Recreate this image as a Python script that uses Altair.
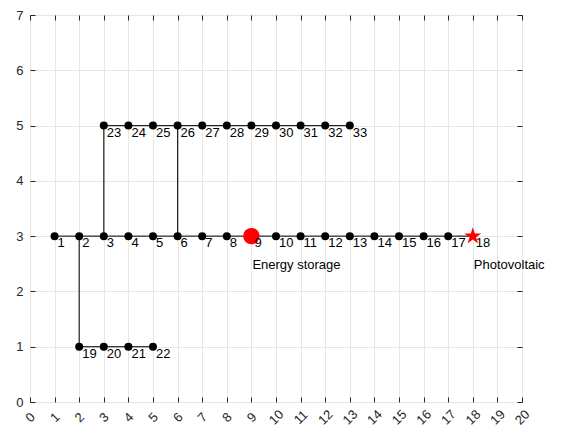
import altair as alt
import pandas as pd

# Node positions
node_ids = [1, 2, 3, 4, 5, 6, 7, 8, 9, 10, 11, 12, 13, 14, 15, 16, 17, 18,
            19, 20, 21, 22,
            23, 24, 25, 26, 27, 28, 29, 30, 31, 32, 33]
node_x = [1, 2, 3, 4, 5, 6, 7, 8, 9, 10, 11, 12, 13, 14, 15, 16, 17, 18,
          2, 3, 4, 5,
          3, 4, 5, 6, 7, 8, 9, 10, 11, 12, 13]
node_y = [3, 3, 3, 3, 3, 3, 3, 3, 3, 3, 3, 3, 3, 3, 3, 3, 3, 3,
          1, 1, 1, 1,
          5, 5, 5, 5, 5, 5, 5, 5, 5, 5, 5]

# Branches (from node, to node)
edge_from = [1, 2, 3, 4, 5, 6, 7, 8, 9, 10, 11, 12, 13, 14, 15, 16, 17,
             2, 19, 20, 21,
             3, 23, 24, 25, 26, 27, 28, 29, 30, 31, 32,
             6]
edge_to = [2, 3, 4, 5, 6, 7, 8, 9, 10, 11, 12, 13, 14, 15, 16, 17, 18,
           19, 20, 21, 22,
           23, 24, 25, 26, 27, 28, 29, 30, 31, 32, 33,
           26]

storage_node = 9
pv_node = 18
ann_text = ["Energy storage", "Photovoltaic"]
ann_node = [9, 18]

x_ticks = list(range(0, 21))
y_ticks = list(range(0, 8))

pos = {i: (x, y) for i, x, y in zip(node_ids, node_x, node_y)}
nodes = pd.DataFrame({"id": node_ids, "x": node_x, "y": node_y})
edges = pd.DataFrame({
    "x": [pos[a][0] for a in edge_from], "y": [pos[a][1] for a in edge_from],
    "x2": [pos[b][0] for b in edge_to], "y2": [pos[b][1] for b in edge_to],
})
ann = pd.DataFrame({"text": ann_text,
                    "x": [pos[n][0] for n in ann_node],
                    "y": [pos[n][1] for n in ann_node]})

FONT = "Liberation Sans"
DARK = "#262626"
STAR = ("M0,-1L0.2245,-0.309L0.9511,-0.309L0.3633,0.118L0.5878,0.809"
        "L0,0.382L-0.5878,0.809L-0.3633,0.118L-0.9511,-0.309L-0.2245,-0.309Z")

xscale = alt.Scale(domain=[0, 20], nice=False, zero=False)
yscale = alt.Scale(domain=[0, 7], nice=False, zero=False)

x_bottom = alt.Axis(orient="bottom", values=x_ticks, title=None, offset=-5,
                    tickSize=5, tickColor=DARK, domain=False, grid=True,
                    gridColor="#e6e6e6", labelAngle=315, labelAlign="center",
                    labelBaseline="middle", labelPadding=15, labelFontSize=13,
                    labelColor=DARK, labelFont=FONT, labelOverlap=False)
y_left = alt.Axis(orient="left", values=y_ticks, title=None, offset=-5,
                  tickSize=5, tickColor=DARK, domain=False, grid=True,
                  gridColor="#e6e6e6", labelPadding=7, labelFontSize=13,
                  labelColor=DARK, labelFont=FONT)
x_top = alt.Axis(orient="top", values=x_ticks, title=None, offset=-5,
                 tickSize=5, tickColor=DARK, domain=False, grid=False,
                 labels=False)
y_right = alt.Axis(orient="right", values=y_ticks, title=None, offset=-5,
                   tickSize=5, tickColor=DARK, domain=False, grid=False,
                   labels=False)

lines = alt.Chart(edges).mark_rule(color="#222222", strokeWidth=1.2).encode(
    x=alt.X("x:Q", scale=xscale, axis=x_bottom),
    y=alt.Y("y:Q", scale=yscale, axis=y_left),
    x2="x2:Q", y2="y2:Q",
)

normal = nodes[~nodes["id"].isin([storage_node, pv_node])]
dots = alt.Chart(normal).mark_point(filled=True, shape="circle", size=64,
                                    color="black", opacity=1).encode(
    x=alt.X("x:Q", scale=xscale, axis=x_top),
    y=alt.Y("y:Q", scale=yscale, axis=y_right),
)

storage = alt.Chart(nodes[nodes["id"] == storage_node]).mark_point(
    filled=True, shape="circle", size=270, color="#ff0000", opacity=1).encode(
    x=alt.X("x:Q", scale=xscale, axis=None),
    y=alt.Y("y:Q", scale=yscale, axis=None),
)

pv = alt.Chart(nodes[nodes["id"] == pv_node]).mark_point(
    filled=True, shape=STAR, size=320, color="#ff0000", opacity=1).encode(
    x=alt.X("x:Q", scale=xscale, axis=None),
    y=alt.Y("y:Q", scale=yscale, axis=None),
)

labels = alt.Chart(nodes).mark_text(align="left", baseline="top", dx=3, dy=1,
                                    fontSize=13, font=FONT, color="black").encode(
    x=alt.X("x:Q", scale=xscale, axis=None),
    y=alt.Y("y:Q", scale=yscale, axis=None),
    text="id:N",
)

ann_text_layer = alt.Chart(ann).mark_text(align="left", baseline="middle",
                                          dx=1, dy=29, fontSize=13, font=FONT,
                                          color="black").encode(
    x=alt.X("x:Q", scale=xscale, axis=None),
    y=alt.Y("y:Q", scale=yscale, axis=None),
    text="text:N",
)

chart = alt.layer(lines, dots, storage, pv, labels, ann_text_layer).resolve_axis(
    x="independent", y="independent"
).properties(
    width=492, height=387,
    autosize=alt.AutoSizeParams(type="none"),
    padding={"left": 22, "top": 7, "right": 27, "bottom": 30},
    background="white",
).configure_view(stroke=DARK, strokeWidth=1)

chart.save("out.html", embed_options={"renderer": "svg", "actions": False})
